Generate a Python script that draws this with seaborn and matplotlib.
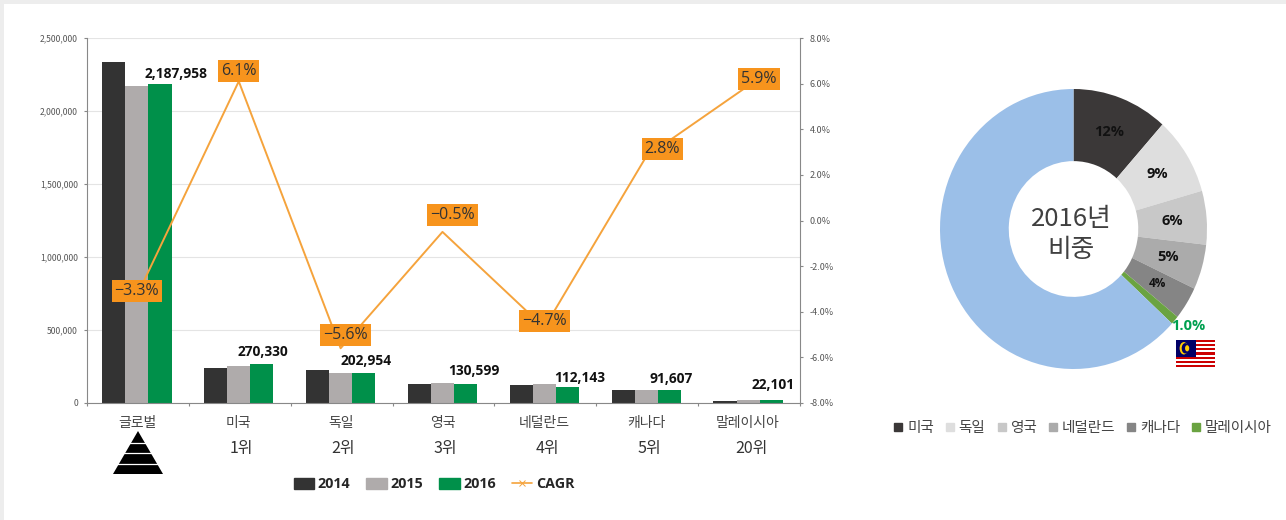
import matplotlib
matplotlib.use('Agg')
import matplotlib.pyplot as plt
from matplotlib.patches import Rectangle, Polygon, Circle
from matplotlib.lines import Line2D
from matplotlib.ticker import FuncFormatter
import numpy as np
import pandas as pd
import seaborn as sns

countries = ['글로벌', '미국', '독일', '영국', '네덜란드', '캐나다', '말레이시아']
ranks = ['', '1위', '2위', '3위', '4위', '5위', '20위']
years = ['2014', '2015', '2016']
values_2014 = [2335000, 240000, 228000, 128000, 120000, 88000, 17000]
values_2015 = [2171000, 255000, 208000, 138000, 132000, 92000, 20000]
values_2016 = [2187958, 270330, 202954, 130599, 112143, 91607, 22101]
cagr = [-3.3, 6.1, -5.6, -0.5, -4.7, 2.8, 5.9]

share_names = ['미국', '독일', '영국', '네덜란드', '캐나다', '말레이시아', '기타']
share_values = [11.6, 9.0, 6.2, 5.2, 3.8, 1.0, 63.2]
share_labels = ['12%', '9%', '6%', '5%', '4%', '', '']

W, H = 1286, 520
BAR_COLORS = ['#333333', '#AFABAB', '#00904A']
ORANGE = '#F7941D'
LINE_ORANGE = '#F5A33C'
PIE_COLORS = ['#3B3838', '#DEDEDE', '#C8C8C8', '#ABABAB', '#858585', '#6AA341', '#9BBFE8']
NUM_FONT = ['Open Sans', 'DejaVu Sans']

sns.set_theme(style='white')
plt.rcParams['font.family'] = ['Noto Sans CJK KR', 'DejaVu Sans']


def box(x0, y0, x1, y1):
    # pixel box (y from the top) to figure fractions
    return [x0 / W, 1 - y1 / H, (x1 - x0) / W, (y1 - y0) / H]


fig = plt.figure(figsize=(W / 100, H / 100), dpi=100, facecolor='white')
fig.add_artist(Rectangle((0, 0), 4 / W, 1, transform=fig.transFigure, color='#EDEDED', lw=0))
fig.add_artist(Rectangle((0, 1 - 4 / H), 1, 4 / H, transform=fig.transFigure, color='#EDEDED', lw=0))

# Bars
ax = fig.add_axes(box(87, 38, 800, 403))
df = pd.DataFrame({'country': countries * 3,
                   'year': np.repeat(years, len(countries)),
                   'value': values_2014 + values_2015 + values_2016})
sns.barplot(data=df, x='country', y='value', hue='year', palette=BAR_COLORS,
            width=0.68, gap=0, saturation=1, legend=False, linewidth=0, ax=ax)
ax.set_xlim(-0.49, 6.51)
ax.set_ylim(0, 2500000)
ax.set_yticks(np.arange(0, 2500001, 500000))
ax.yaxis.set_major_formatter(FuncFormatter(lambda v, _: f'{int(v):,}'))
ax.set_xlabel('')
ax.set_ylabel('')
ax.grid(axis='y', color='#E4E4E4', lw=0.8)
ax.set_axisbelow(True)
ax.tick_params(axis='y', labelsize=6.2, labelcolor='#555555', length=2.5, width=0.8,
               color='#888888', left=True, pad=4)
ax.set_xticks(np.arange(-0.49, 7), minor=True)
ax.tick_params(axis='x', which='major', length=0, labelsize=10, labelcolor='#444444', pad=9)
ax.tick_params(axis='x', which='minor', length=2.5, width=0.8, color='#888888', bottom=True)
for side in ['left', 'bottom']:
    ax.spines[side].set_color('#888888')
    ax.spines[side].set_linewidth(0.8)
for side in ['top', 'right']:
    ax.spines[side].set_visible(False)

# Data labels on the 2016 bars
label_shift = [(16, 10), (1, 12), (2, 12), (8, 13), (12, 9), (2, 11), (2, 15)]
for i, (v, shift) in enumerate(zip(values_2016, label_shift)):
    ax.annotate(f'{v:,}', (i + 0.68 / 3, v), xytext=shift, textcoords='offset pixels',
                ha='center', va='center', fontsize=9.9, fontweight='bold',
                family=NUM_FONT, color='#111111', annotation_clip=False)

for i, r in enumerate(ranks):
    ax.annotate(r, (i, 0), xytext=(3, -46), textcoords='offset pixels', ha='center',
                va='center', fontsize=11.5, color='#333333', annotation_clip=False)

# CAGR line
ax2 = ax.twinx()
sns.lineplot(x=np.arange(len(cagr)), y=cagr, color=LINE_ORANGE, lw=1.4, ax=ax2, legend=False)
ax2.set_ylim(-8, 8)
ax2.set_yticks(np.arange(-8, 9, 2))
ax2.yaxis.set_major_formatter(FuncFormatter(lambda v, _: f'{v:.1f}%'))
ax2.tick_params(axis='y', labelsize=6.5, labelcolor='#555555', length=2.5, width=0.8,
                color='#888888', right=True, pad=4.5)
ax2.spines['right'].set_color('#888888')
ax2.spines['right'].set_linewidth(0.8)
for side in ['top', 'left', 'bottom']:
    ax2.spines[side].set_visible(False)

cagr_shift = [(0, 5), (0, 10), (5, 13), (10, 17), (0, 7), (16, 8), (11, 7)]
for i, (v, shift) in enumerate(zip(cagr, cagr_shift)):
    ax2.annotate(f'{v:.1f}%'.replace('-', '\u2212'), (i, v), xytext=shift, textcoords='offset pixels',
                 ha='center', va='center', fontsize=11.5, family=NUM_FONT, color='#333333',
                 bbox=dict(boxstyle='square,pad=0.18', fc=ORANGE, ec='none'),
                 annotation_clip=False, zorder=5)

handles = [Rectangle((0, 0), 1, 1, color=c) for c in BAR_COLORS]
handles.append(Line2D([0], [0], color=LINE_ORANGE, lw=1.2, marker='x', ms=4, mew=0.7))
fig.legend(handles, years + ['CAGR'], ncol=4, loc='center', bbox_to_anchor=(434 / W, 1 - 484.5 / H),
           frameon=False, handlelength=1.45, handleheight=0.7, handletextpad=0.25,
           columnspacing=1.1, borderpad=0,
           prop={'family': NUM_FONT, 'weight': 'bold', 'size': 10.3})

# Pyramid under the global bar
pyr = fig.add_axes(box(113, 431, 163, 474))
pyr.set_xlim(0, 50)
pyr.set_ylim(43, 0)
pyr.axis('off')
pyr.add_patch(Polygon([(25, 0), (0, 43), (50, 43)], color='black', lw=0))
for y in [12, 22, 33]:
    pyr.axhline(y, color='white', lw=0.9)

# Donut, slightly squeezed sideways like the reference
pie_ax = fig.add_axes(box(940, 89, 1207, 369))
wedges, _, autotexts = pie_ax.pie(share_values, colors=PIE_COLORS, startangle=90, counterclock=False,
                                  radius=1, labels=None, labeldistance=None,
                                  autopct=lambda p: '', pctdistance=0.74,
                                  wedgeprops=dict(width=0.515, lw=0))
pie_ax.set_aspect('auto')
for t, s in zip(autotexts, share_labels):
    t.set_text(s)
    t.set_fontweight('bold')
    t.set_fontsize(10.5)
    t.set_color('#111111')
    t.set_family(NUM_FONT)
autotexts[4].set_fontsize(8.5)
pie_ax.set_xlim(-1, 1)
pie_ax.set_ylim(-1, 1)
pie_ax.text(-0.015, -0.04, '2016년\n비중', ha='center', va='center', fontsize=18.5,
            color='#404040', linespacing=1.25)
fig.text(1188 / W, 1 - 326 / H, '1.0%', ha='center', va='center', fontsize=10.5,
         fontweight='bold', color='#00A050', family=NUM_FONT)

pie_handles = [Line2D([0], [0], ls='', marker='s', ms=5.5, color=c) for c in PIE_COLORS[:6]]
fig.legend(pie_handles, share_names[:6], ncol=6, loc='center', bbox_to_anchor=(1083 / W, 1 - 428 / H),
           frameon=False, handlelength=0.6, handletextpad=0.3, columnspacing=0.8, borderpad=0,
           fontsize=10.5, labelcolor='#444444')

# Malaysian flag
flag = fig.add_axes(box(1176, 340, 1215, 369))
flag.set_xlim(0, 28)
flag.set_ylim(14, 0)
flag.axis('off')
for i in range(14):
    flag.add_patch(Rectangle((0, i), 28, 1, color='#CC0001' if i % 2 == 0 else 'white', lw=0))
flag.add_patch(Rectangle((0, 0), 14, 8, color='#010066', lw=0))
flag.add_patch(Circle((5.6, 4), 3, color='#FFCC00', lw=0))
flag.add_patch(Circle((6.6, 4), 2.5, color='#010066', lw=0))
flag.add_patch(Circle((8, 4), 1.5, color='#FFCC00', lw=0))

plt.savefig('out.png', dpi=100)
